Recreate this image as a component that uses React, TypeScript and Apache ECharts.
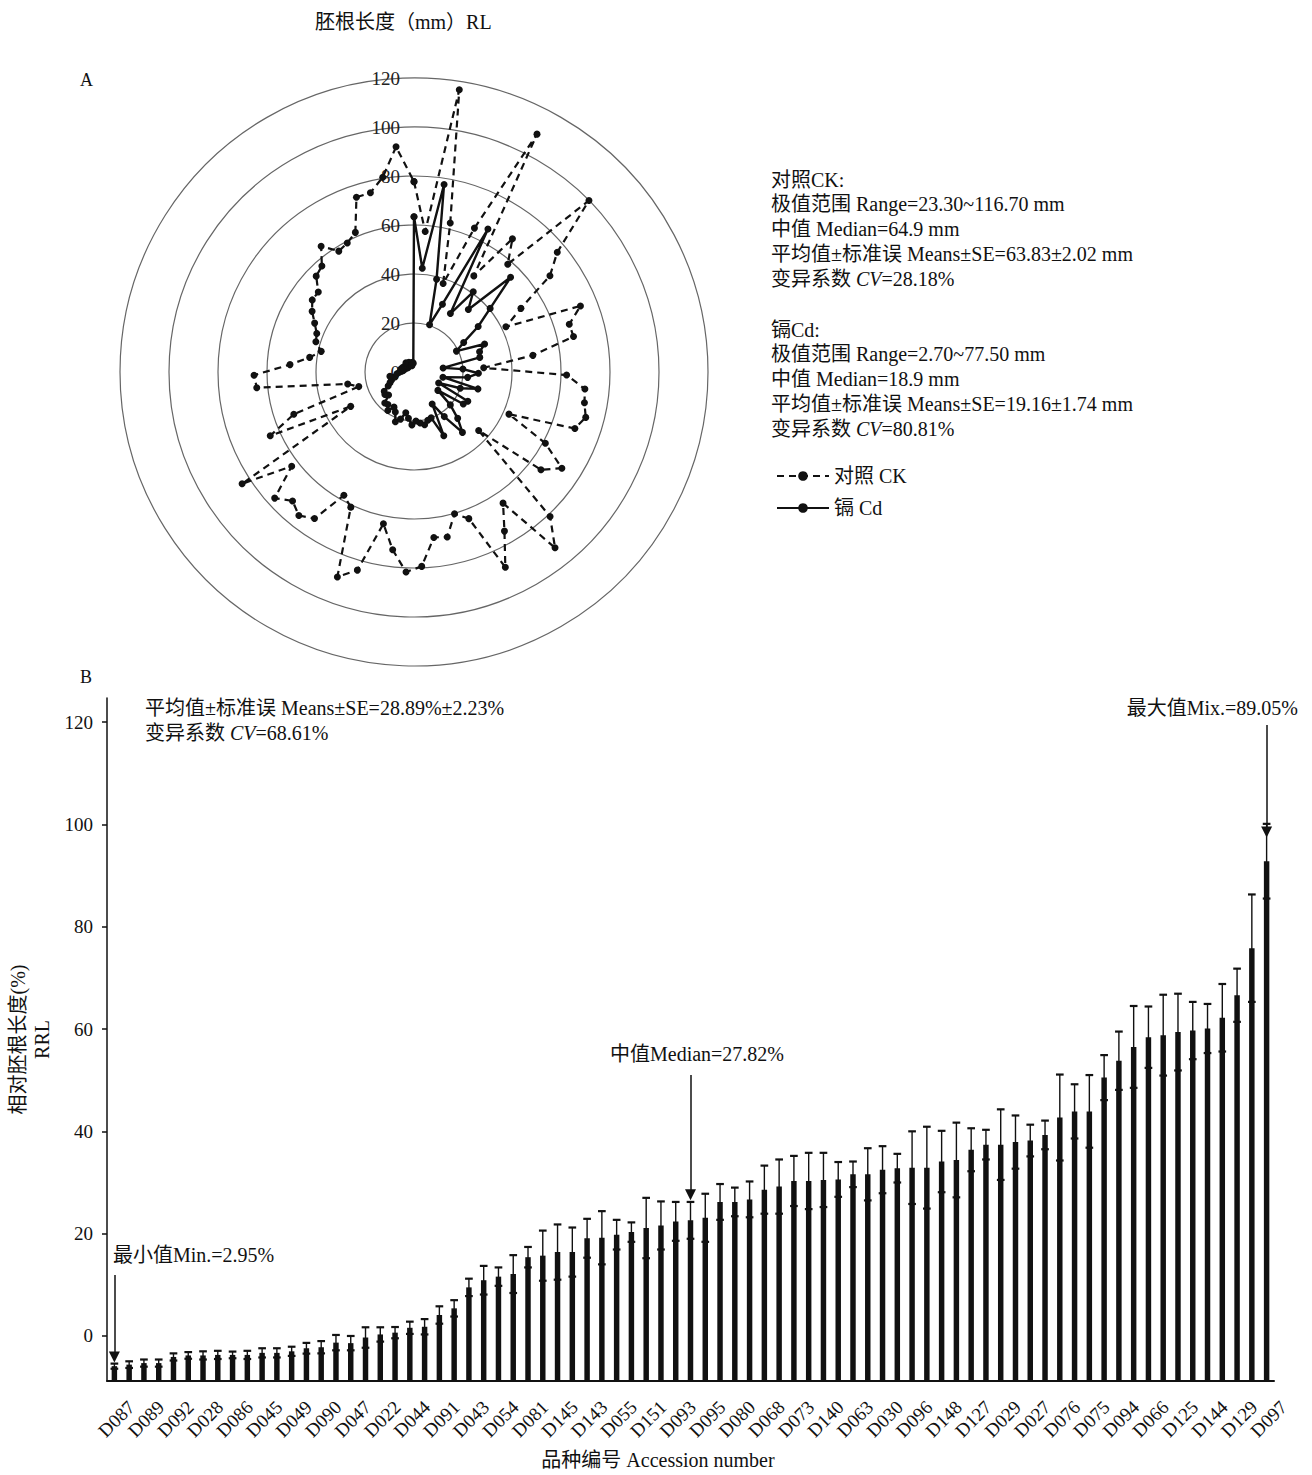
import React, { useEffect, useRef } from 'react';
import * as echarts from 'echarts';

const FONT = "'Liberation Serif', 'Times New Roman', 'Noto Sans CJK SC', serif";

// Panel A: radicle length (mm) of 79 accessions, clockwise from the top
const ckValues = [
  77.7, 57.5, 116.7, 62.6, 38.0, 63.7, 109.3, 46.2, 67.6, 58.3,
  100.0, 76.2, 68.0, 50.8, 41.8, 73.1, 66.3, 66.7, 49.0, 28.5,
  62.3, 70.1, 70.7, 72.5, 69.6, 42.4, 61.0, 72.0, 65.4, 35.6,
  81.0, 92.0, 64.7, 74.7, 88.0, 63.9, 60.2, 68.7, 68.0, 79.4,
  81.7, 73.1, 63.2, 84.1, 89.3, 60.9, 57.9, 72.3, 75.1, 72.3,
  76.7, 63.0, 83.7, 29.4, 64.2, 52.0, 23.3, 27.5, 64.5, 65.3,
  50.7, 43.0, 38.8, 41.9, 42.7, 45.2, 48.4, 50.9, 50.9, 55.9,
  57.3, 63.8, 58.1, 59.3, 61.8, 75.1, 75.3, 80.5, 92.2,
];
const cdValues = [
  63.4, 42.5, 77.5, 39.0, 20.3, 30.0, 65.7, 28.1, 40.7, 33.8,
  55.2, 40.5, 32.1, 23.6, 19.3, 31.0, 28.0, 27.5, 12.0, 20.0,
  26.3, 22.0, 12.0, 27.0, 20.0, 11.0, 25.0, 24.0, 12.3, 20.0,
  26.0, 31.6, 22.0, 15.0, 28.7, 20.0, 20.5, 22.0, 21.0, 20.0,
  21.6, 19.0, 17.0, 20.0, 21.7, 18.0, 16.5, 19.0, 17.0, 17.4,
  14.0, 15.0, 14.5, 12.0, 10.7, 9.7, 8.0, 10.0, 7.0, 6.0,
  5.0, 4.4, 5.5, 4.0, 5.0, 3.5, 4.5, 3.0, 4.0, 3.5,
  5.0, 4.0, 3.2, 4.5, 3.0, 2.7, 3.5, 4.0, 3.6,
];

// Panel B: relative radicle length, as drawn against the printed axis
const accessionLabels = [
  'D087', 'D089', 'D092', 'D028', 'D086', 'D045', 'D049', 'D090', 'D047', 'D022',
  'D044', 'D091', 'D043', 'D054', 'D081', 'D145', 'D143', 'D055', 'D151', 'D093',
  'D095', 'D080', 'D068', 'D073', 'D140', 'D063', 'D030', 'D096', 'D148', 'D127',
  'D029', 'D027', 'D076', 'D075', 'D094', 'D066', 'D125', 'D144', 'D129', 'D097',
];
const rrlValues = [
  -5.9, -5.6, -5.3, -5.3, -4.1, -3.8, -3.8, -3.7, -3.7, -3.7,
  -3.3, -3.3, -3.0, -2.4, -2.2, -1.3, -1.4, -0.3, 0.3, 0.65,
  1.6, 1.8, 4.1, 5.4, 9.5, 10.9, 11.6, 12.1, 15.4, 15.7,
  16.4, 16.4, 19.1, 19.2, 19.8, 20.3, 21.1, 21.6, 22.4, 22.6,
  23.1, 26.2, 26.2, 26.7, 28.6, 29.2, 30.3, 30.3, 30.5, 30.6,
  31.6, 31.6, 32.5, 32.8, 32.9, 32.9, 34.1, 34.4, 36.4, 37.4,
  37.4, 37.9, 38.2, 39.3, 42.7, 43.9, 43.9, 50.5, 53.8, 56.5,
  58.4, 58.8, 59.4, 59.7, 60.1, 62.2, 66.6, 75.8, 92.8,
];
const rrlErrors = [
  0.5, 0.65, 0.7, 0.7, 0.7, 0.65, 0.8, 0.8, 0.65, 0.8,
  0.9, 0.9, 0.9, 1.05, 1.2, 1.5, 1.4, 2.0, 1.4, 1.1,
  1.2, 1.5, 1.7, 1.6, 1.7, 2.8, 1.8, 3.7, 2.0, 4.9,
  5.4, 4.8, 3.8, 5.2, 2.9, 1.9, 5.9, 4.7, 3.8, 3.6,
  4.7, 3.5, 2.8, 3.5, 4.7, 5.3, 4.9, 5.5, 5.3, 3.4,
  2.5, 5.1, 4.6, 2.8, 7.1, 8.0, 6.0, 7.3, 4.2, 2.9,
  6.9, 5.2, 3.1, 2.8, 8.4, 5.3, 7.1, 4.4, 5.7, 8.0,
  6.0, 7.9, 7.5, 5.6, 4.8, 6.6, 5.2, 10.5, 7.3,
];
const yTickValues = [0, 20, 40, 60, 80, 100, 120];
const Y_MIN = -8.8;
const Y_MAX = 124.7;

export default function App() {
  const ref = useRef<HTMLDivElement>(null);

  useEffect(() => {
    if (!ref.current) return;
    const chart = echarts.init(ref.current, undefined, { renderer: 'svg' });

    const n = ckValues.length;
    const ckData = ckValues.map((v, i) => [v, i]);
    ckData.push([ckValues[0], n]);
    const cdData = cdValues.map((v, i) => [v, i]);
    cdData.push([cdValues[0], n]);

    const categories = rrlValues.map((_, i) => (i % 2 === 0 ? accessionLabels[i / 2] : ''));
    const barData = rrlValues.map((v, i) => [i, v, rrlErrors[i]]);

    const txt = (text: string, x: number, y: number, extra: any = {}) => ({
      type: 'text',
      x,
      y,
      style: {
        text,
        fontSize: 20,
        fontFamily: FONT,
        fill: '#111',
        verticalAlign: 'middle',
        ...extra,
      },
    });
    const richStyle = {
      n: { fontSize: 20, fontFamily: FONT, fill: '#111' },
      i: { fontSize: 20, fontFamily: FONT, fill: '#111', fontStyle: 'italic' },
    };
    const cvText = (value: string, x: number, y: number) => ({
      type: 'text',
      x,
      y,
      style: {
        text: '{n|变异系数 }{i|CV}{n|=' + value + '}',
        rich: richStyle,
        verticalAlign: 'middle',
        fontSize: 20,
        fontFamily: FONT,
        fill: '#111',
      },
    });

    const option: any = {
      animation: false,
      backgroundColor: '#fff',
      textStyle: { fontFamily: FONT, color: '#111' },
      polar: { center: [414, 372], radius: 294 },
      angleAxis: {
        type: 'value',
        min: 0,
        max: n,
        startAngle: 90,
        clockwise: true,
        axisLine: { show: false },
        axisTick: { show: false },
        axisLabel: { show: false },
        splitLine: { show: false },
      },
      radiusAxis: {
        type: 'value',
        min: 0,
        max: 120,
        interval: 20,
        axisLine: { show: false },
        axisTick: { show: false },
        axisLabel: { fontSize: 19, color: '#222', fontFamily: FONT, margin: 14 },
        splitLine: { show: true, lineStyle: { color: '#666', width: 1.2 } },
      },
      grid: { left: 107, top: 698, width: 1167, height: 683, outerBoundsMode: 'none' },
      xAxis: {
        type: 'category',
        data: categories,
        axisLine: { onZero: false, lineStyle: { color: '#111', width: 2 } },
        axisTick: { show: false },
        axisLabel: {
          interval: 0,
          rotate: 45,
          fontSize: 19,
          color: '#111',
          fontFamily: FONT,
          margin: 6,
          verticalAlign: 'top',
          lineHeight: 48,
        },
        splitLine: { show: false },
      },
      yAxis: {
        type: 'value',
        min: Y_MIN,
        max: Y_MAX,
        axisLine: { show: true, lineStyle: { color: '#111', width: 1.5 } },
        axisTick: { show: true, customValues: yTickValues, length: 5, lineStyle: { color: '#111', width: 1.5 } },
        axisLabel: { customValues: yTickValues, fontSize: 19, color: '#111', fontFamily: FONT, margin: 14 },
        splitLine: { show: false },
        name: '相对胚根长度(%)\nRRL',
        nameLocation: 'middle',
        nameRotate: 90,
        nameGap: 50,
        nameTextStyle: { fontSize: 20, lineHeight: 24, color: '#111', fontFamily: FONT },
      },
      legend: {
        orient: 'vertical',
        left: 771,
        top: 460,
        itemWidth: 52,
        itemHeight: 12,
        itemGap: 10,
        data: ['对照 CK', '镉 Cd'],
        textStyle: { fontSize: 20, fontFamily: FONT, color: '#111', lineHeight: 22 },
      },
      series: [
        {
          name: '对照 CK',
          type: 'line',
          coordinateSystem: 'polar',
          data: ckData,
          symbol: 'circle',
          symbolSize: 7,
          showAllSymbol: true,
          lineStyle: { color: '#111', width: 2.2, type: [7, 5] },
          itemStyle: { color: '#111' },
          z: 3,
        },
        {
          name: '镉 Cd',
          type: 'line',
          coordinateSystem: 'polar',
          data: cdData,
          symbol: 'circle',
          symbolSize: 7,
          showAllSymbol: true,
          lineStyle: { color: '#111', width: 2.4, type: 'solid' },
          itemStyle: { color: '#111' },
          z: 4,
        },
        {
          type: 'custom',
          coordinateSystem: 'cartesian2d',
          data: barData,
          encode: { x: 0, y: 1 },
          renderItem: (params: any, api: any) => {
            const i = api.value(0);
            const v = api.value(1);
            const e = api.value(2);
            const base = api.coord([i, Y_MIN]);
            const top = api.coord([i, v]);
            const hi = api.coord([i, v + e]);
            const lo = api.coord([i, v - e]);
            const band = api.size([1, 0])[0];
            const bw = band * 0.37;
            const cw = band * 0.52;
            return {
              type: 'group',
              children: [
                { type: 'rect', shape: { x: top[0] - bw / 2, y: top[1], width: bw, height: base[1] - top[1] }, style: { fill: '#111' } },
                { type: 'line', shape: { x1: hi[0], y1: hi[1], x2: lo[0], y2: lo[1] }, style: { stroke: '#111', lineWidth: 1.4 } },
                { type: 'line', shape: { x1: hi[0] - cw / 2, y1: hi[1], x2: hi[0] + cw / 2, y2: hi[1] }, style: { stroke: '#111', lineWidth: 2.2 } },
                { type: 'line', shape: { x1: lo[0] - cw / 2, y1: lo[1], x2: lo[0] + cw / 2, y2: lo[1] }, style: { stroke: '#111', lineWidth: 2.2 } },
              ],
            };
          },
          markLine: {
            silent: true,
            symbol: ['none', 'triangle'],
            symbolSize: 11,
            label: { show: false },
            lineStyle: { color: '#111', width: 1.5, type: 'solid' },
            data: [
              [{ coord: [78, 119.4] }, { coord: [78, 98.5] }],
              [{ coord: [38.7, 51.0] }, { coord: [38.7, 27.6] }],
              [{ coord: [0, 11.9] }, { coord: [0, -4.1] }],
            ],
          },
        },
      ],
      graphic: [
        txt('胚根长度（mm）RL', 315, 22),
        txt('A', 80, 80, { fontSize: 18 }),
        txt('B', 80, 677, { fontSize: 18 }),
        txt('对照CK:', 771, 180),
        txt('极值范围 Range=23.30~116.70 mm', 771, 204),
        txt('中值 Median=64.9 mm', 771, 229),
        txt('平均值±标准误 Means±SE=63.83±2.02 mm', 771, 254),
        cvText('28.18%', 771, 279),
        txt('镉Cd:', 771, 330),
        txt('极值范围 Range=2.70~77.50 mm', 771, 354),
        txt('中值 Median=18.9 mm', 771, 379),
        txt('平均值±标准误 Means±SE=19.16±1.74 mm', 771, 404),
        cvText('80.81%', 771, 429),
        txt('平均值±标准误 Means±SE=28.89%±2.23%', 145, 708),
        cvText('68.61%', 145, 733),
        txt('最大值Mix.=89.05%', 1298, 708, { align: 'right' }),
        txt('中值Median=27.82%', 610, 1054),
        txt('最小值Min.=2.95%', 113, 1255),
        txt('品种编号 Accession number', 658, 1460, { align: 'center' }),
      ],
    };

    chart.setOption(option);
    return () => chart.dispose();
  }, []);

  return (
    <div
      ref={ref}
      style={{ position: 'absolute', left: 0, top: 0, width: 1312, height: 1475, background: '#fff' }}
    />
  );
}
